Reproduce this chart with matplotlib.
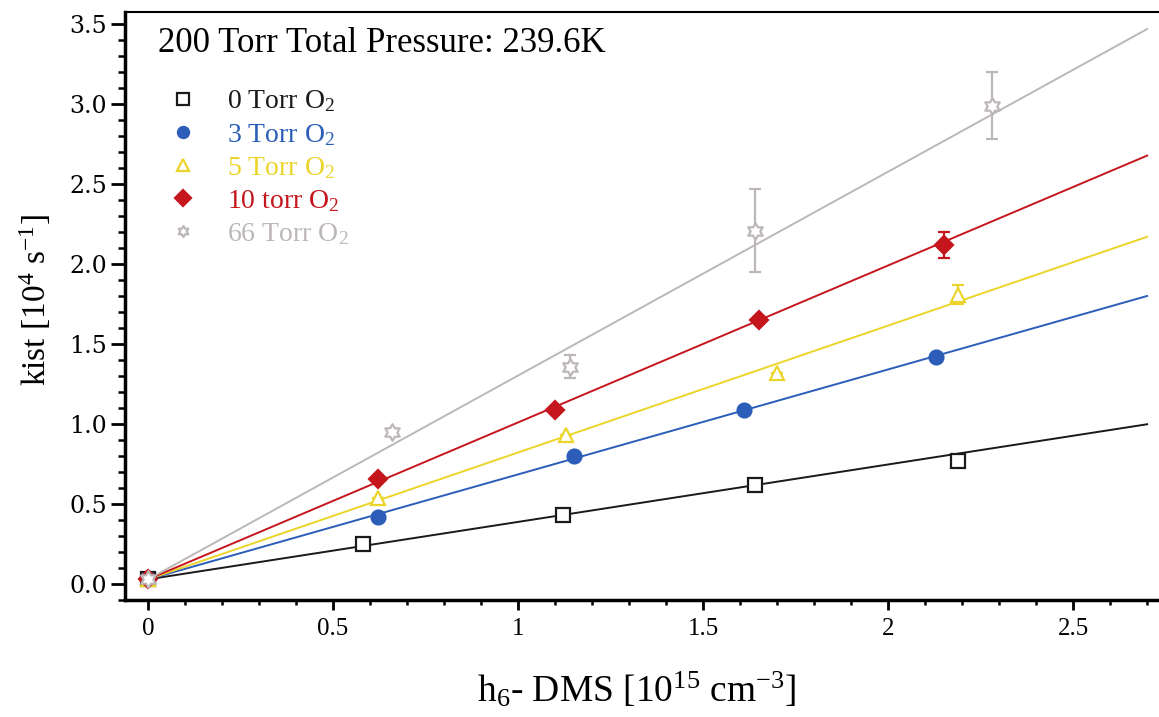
import numpy as np
import matplotlib
matplotlib.use("Agg")
import matplotlib.pyplot as plt
from matplotlib.path import Path
from matplotlib.ticker import MultipleLocator, FormatStrFormatter

plt.rcParams['font.family'] = ['Liberation Serif', 'DejaVu Serif']
plt.rcParams['mathtext.fontset'] = 'custom'
plt.rcParams['mathtext.rm'] = 'Liberation Serif'
plt.rcParams['mathtext.it'] = 'Liberation Serif:italic'

# data: h6-DMS [1e15 cm-3] vs kist [1e4 s-1]
labels = ["0 Torr O$_2$", "3 Torr O$_2$", "5 Torr O$_2$", "10 torr O$_2$", "66 Torr O$_2$"]
colors = ["#1a1a1a", "#2b5db9", "#ecd52a", "#c5161d", "#bdb7b7"]

x_0 = [0.0, 0.58, 1.12, 1.64, 2.19]
y_0 = [0.03, 0.25, 0.43, 0.62, 0.77]
e_0 = [0.0, 0.0, 0.0, 0.0, 0.0]

x_3 = [0.0, 0.62, 1.15, 1.61, 2.13]
y_3 = [0.03, 0.42, 0.80, 1.09, 1.42]
e_3 = [0.0, 0.0, 0.0, 0.0, 0.0]

x_5 = [0.0, 0.62, 1.13, 1.70, 2.19]
y_5 = [0.03, 0.54, 0.93, 1.32, 1.81]
e_5 = [0.0, 0.0, 0.0, 0.0, 0.06]

x_10 = [0.0, 0.62, 1.10, 1.65, 2.15]
y_10 = [0.03, 0.66, 1.09, 1.65, 2.12]
e_10 = [0.0, 0.0, 0.0, 0.0, 0.08]

x_66 = [0.0, 0.66, 1.14, 1.64, 2.28]
y_66 = [0.03, 0.95, 1.36, 2.21, 2.99]
e_66 = [0.0, 0.02, 0.07, 0.26, 0.21]

# linear fits shown in the figure (slope, intercept)
fit_slope = [0.359, 0.656, 0.793, 0.981, 1.274]
fit_icpt = [0.03, 0.03, 0.03, 0.03, 0.03]
fit_range = [0.0, 2.7]

xs = [x_0, x_3, x_5, x_10, x_66]
ys = [y_0, y_3, y_5, y_10, y_66]
es = [e_0, e_3, e_5, e_10, e_66]

# hexagram marker
ang = np.pi / 2 + np.arange(12) * np.pi / 6
rad = np.where(np.arange(12) % 2 == 0, 1.0, 1 / np.sqrt(3))
verts = np.column_stack([rad * np.cos(ang), rad * np.sin(ang)])
verts = np.vstack([verts, verts[:1]])
hexagram = Path(verts, closed=True)

markers = ['s', 'o', '^', 'D', hexagram]
msizes = [9.5, 10, 10.5, 9, 12]
filled = [False, True, False, True, False]

fig = plt.figure(figsize=(11.59, 7.17), dpi=100)
ax = fig.add_axes([0.108, 0.163, 0.892, 0.82])

xfit = np.array(fit_range)
for i in range(5):
    ax.plot(xfit, fit_slope[i] * xfit + fit_icpt[i], color=colors[i], lw=1.4, zorder=2)
    ax.errorbar(xs[i], ys[i], yerr=es[i], fmt='none', ecolor=colors[i],
                elinewidth=1.6, capsize=4, capthick=1.6, zorder=3)
    ax.plot(xs[i], ys[i], ls='none', marker=markers[i], ms=msizes[i],
            mec=colors[i], mfc=colors[i] if filled[i] else 'white',
            mew=1.6, label=labels[i], zorder=4)

ax.set_xlim(-0.062, 2.732)
ax.set_ylim(-0.1, 3.575)

ax.set_xticks([0, 0.5, 1, 1.5, 2, 2.5])
ax.set_xticklabels(["0", "0.5", "1", "1.5", "2", "2.5"])
ax.xaxis.set_minor_locator(MultipleLocator(0.1))
ax.yaxis.set_major_locator(MultipleLocator(0.5))
ax.yaxis.set_minor_locator(MultipleLocator(0.1))
ax.yaxis.set_major_formatter(FormatStrFormatter('%.1f'))

ax.tick_params(axis='x', which='major', direction='out', length=7, width=2, labelsize=18, pad=6)
ax.tick_params(axis='x', which='minor', direction='out', length=3.5, width=1.8)
ax.tick_params(axis='y', which='major', direction='out', length=10, width=2, pad=3)
ax.tick_params(axis='y', which='minor', direction='out', length=5, width=1.8)
for t in ax.get_yticklabels():
    t.set_fontfamily('DejaVu Serif')
    t.set_fontsize(17)

ax.spines['right'].set_visible(False)
ax.spines['left'].set_linewidth(2.5)
ax.spines['bottom'].set_linewidth(2.5)
ax.spines['top'].set_linewidth(1.5)

fig.text(637 / 1159, 1 - 690 / 717, "h$_6$- DMS [10$^{15}$ cm$^{-3}$]",
         fontsize=27, ha='center', va='center')
fig.text(35 / 1159, 1 - 300 / 717, "kist [10$^4$ s$^{-1}$]",
         fontsize=24, ha='center', va='center', rotation=90)

ax.text(0.032, 0.947, "200 Torr Total Pressure: 239.6K", transform=ax.transAxes,
        fontsize=25, va='center', ha='left')

leg = ax.legend(loc='upper left', bbox_to_anchor=(0.043, 0.87), frameon=False,
                fontsize=20, labelcolor=colors, handlelength=0.95,
                handletextpad=1.1, labelspacing=0.26, borderaxespad=0,
                borderpad=0)
for h in leg.legend_handles:
    h.set_markersize(8)

fig.savefig("out.png", dpi=100)
